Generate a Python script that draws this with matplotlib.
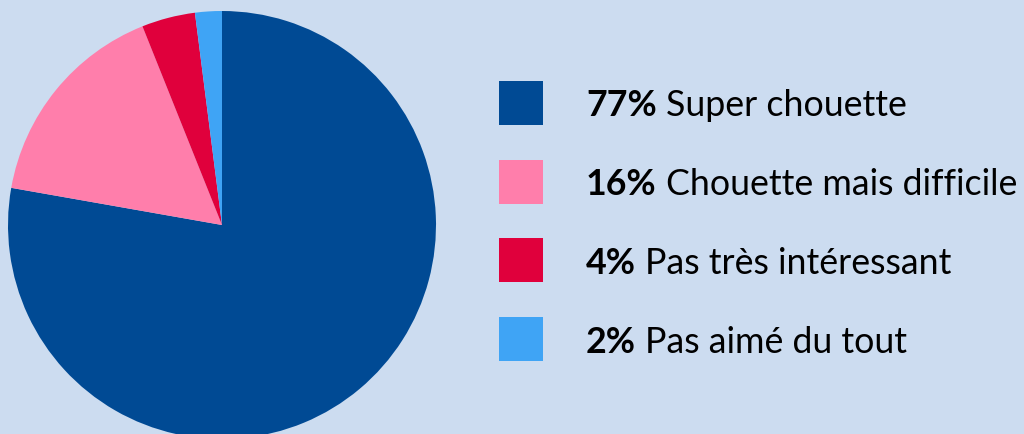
import matplotlib.pyplot as plt
from matplotlib.patches import Rectangle

labels = ["Super chouette", "Chouette mais difficile", "Pas très intéressant", "Pas aimé du tout"]
values = [77, 16, 4, 2]
colors = ["#004a94", "#ff7eab", "#e0003c", "#3fa4f5"]
bg = "#ccdcf0"

W, H = 1024, 434
fig = plt.figure(figsize=(W / 100, H / 100), dpi=100, facecolor=bg)

# pie: centre (222, 225) px from top-left, radius 214 px
cx, cy, r = 222, 225, 214
ax = fig.add_axes([(cx - r) / W, (H - cy - r) / H, 2 * r / W, 2 * r / H])
wedges, _ = ax.pie(values, colors=colors, startangle=90, counterclock=False,
                   radius=1, wedgeprops=dict(linewidth=0))
ax.set_xlim(-1, 1)
ax.set_ylim(-1, 1)
ax.axis("off")
for w in wedges:
    w.set_clip_on(False)

# legend drawn in pixel coords
lg = fig.add_axes([0, 0, 1, 1])
lg.set_xlim(0, W)
lg.set_ylim(H, 0)
lg.axis("off")
lg.patch.set_alpha(0)
font = "Lato"

# pick a size so the longest label is as wide as in the reference (~353 px)
probe = lg.text(0, 0, labels[1], fontsize=27, family=font)
fig.canvas.draw()
fs = 27 * 353 / probe.get_window_extent().width
probe.remove()

for i, (lab, val, col) in enumerate(zip(labels, values, colors)):
    top = 81 + i * 78.7
    lg.add_patch(Rectangle((499, top), 44, 44, color=col, lw=0))
    t = lg.text(586, top + 22, f"{val}%", fontsize=fs, fontweight="bold",
                family=font, va="center_baseline", ha="left", color="black")
    fig.canvas.draw()
    x_end = t.get_window_extent().x1
    lg.text(x_end + 9, top + 22, lab, fontsize=fs, family=font,
            va="center_baseline", ha="left", color="black")

fig.savefig("out.png", dpi=100, facecolor=bg)
